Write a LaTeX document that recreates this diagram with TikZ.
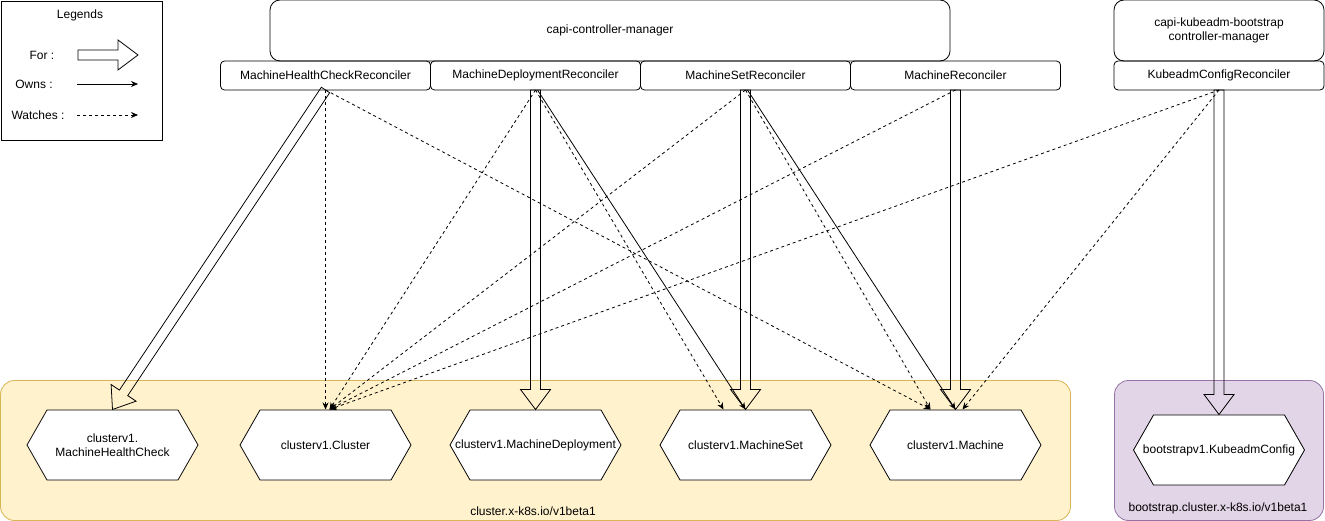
\documentclass[tikz,border=0pt]{standalone}
\usepackage{fontspec}
\setmainfont{Liberation Sans}
\usetikzlibrary{positioning}
\usetikzlibrary{calc}
\usetikzlibrary{arrows.meta}

\definecolor{clfill}{HTML}{FFF2CC}
\definecolor{cldraw}{HTML}{D6B656}
\definecolor{bsfill}{HTML}{E1D5E7}
\definecolor{bsdraw}{HTML}{9673A6}

\tikzset{
  mgrbox/.style={draw, rounded corners=10pt, minimum width=680pt, minimum height=61pt, align=center, outer sep=0pt},
  recbox/.style={draw, rounded corners=4pt, minimum width=210pt, minimum height=29pt, inner sep=0pt, outer sep=0pt},
  kind/.style={minimum width=172pt, minimum height=71pt, inner sep=0pt, outer sep=0pt, align=center,
    path picture={\draw[fill=white]
      ([xshift=0.5pt]path picture bounding box.west)
      -- ([xshift=20.5pt,yshift=-0.5pt]path picture bounding box.north west)
      -- ([xshift=-20.5pt,yshift=-0.5pt]path picture bounding box.north east)
      -- ([xshift=-0.5pt]path picture bounding box.east)
      -- ([xshift=-20.5pt,yshift=0.5pt]path picture bounding box.south east)
      -- ([xshift=20.5pt,yshift=0.5pt]path picture bounding box.south west) -- cycle;}},
  owns/.style={->},
  watches/.style={->, dash pattern=on 3pt off 3pt},
  forline/.style={line join=miter},
}

% hollow "for" arrow from #1 to #2
\newcommand{\forarrow}[2]{%
  \path ($(#2)!20pt!(#1)$) coordinate (fh);
  \draw[forline] ($(#1)!5pt!90:(#2)$) -- ($(fh)!5pt!90:(#2)$) -- ($(fh)!15pt!90:(#2)$)
    -- (#2) -- ($(fh)!15pt!-90:(#2)$) -- ($(fh)!5pt!-90:(#2)$) -- ($(#1)!5pt!-90:(#2)$) -- cycle;}

\begin{document}
\begin{tikzpicture}[x=1pt, y=1pt, line width=0.8pt, >={Stealth[length=7pt,width=6pt]},
    font=\fontsize{12}{14}\selectfont]

    \useasboundingbox (0,0) rectangle (1325,-521);

    % api groups
    \draw[fill=clfill, draw=cldraw, rounded corners=14pt] (0.5,-380.5) rectangle (1070.5,-520.5);
    \node (clgroup) at (533,-511) {cluster.x-k8s.io/v1beta1};
    \draw[fill=bsfill, draw=bsdraw, rounded corners=14pt] (1114.5,-380.5) rectangle (1323.5,-520.5);
    \node (bsgroup) at (1218,-508) {bootstrap.cluster.x-k8s.io/v1beta1};

    % legend
    \node[draw, minimum width=161pt, minimum height=139pt, outer sep=0pt] (legend) at (81.5,-70.5) {};
    \node (legtitle) at (80,-15) {Legends};
    \node (legfor) at (42,-55) {For :};
    \node (legowns) at (34,-84) {Owns :};
    \node (legwatch) at (38,-115) {Watches :};
    \coordinate (fora) at (78,-55);
    \coordinate (forb) at (138,-55);
    \coordinate (ownsa) at (77,-84);
    \coordinate (ownsb) at (138,-84);
    \coordinate (watcha) at (77,-115);
    \coordinate (watchb) at (138,-115);

    % controllers
    \node[mgrbox] (capi) at (610,-30.5) {capi-controller-manager};
    \node[recbox] (mhcrec) at (325.5,-75.5) {MachineHealthCheckReconciler};
    \node[recbox, right=0pt of mhcrec] (mdeprec) {MachineDeploymentReconciler};
    \node[recbox, right=0pt of mdeprec] (msetrec) {MachineSetReconciler};
    \node[recbox, right=0pt of msetrec] (machrec) {MachineReconciler};

    \node[mgrbox, minimum width=210pt] (kbcapi) at (1219,-30.5) {capi-kubeadm-bootstrap\\controller-manager};
    \node[recbox, below=0pt of kbcapi] (kcfgrec) {KubeadmConfigReconciler};

    % kinds
    \node[kind, below=319.5pt of mhcrec] (cluster) {clusterv1.Cluster};
    \node[kind, left=41pt of cluster] (mhc) {clusterv1.\\MachineHealthCheck};
    \node[kind, below=319.5pt of mdeprec] (mdep) {clusterv1.MachineDeployment};
    \node[kind, below=319.5pt of msetrec] (mset) {clusterv1.MachineSet};
    \node[kind, below=319.5pt of machrec] (mach) {clusterv1.Machine};
    \node[kind, below=324.5pt of kcfgrec] (kcfg) {bootstrapv1.KubeadmConfig};

    % for
    \forarrow{fora}{forb}
    \forarrow{mhcrec.south}{mhc.north}
    \forarrow{mdeprec.south}{mdep.north}
    \forarrow{msetrec.south}{mset.north}
    \forarrow{machrec.south}{mach.north}
    \forarrow{kcfgrec.south}{kcfg.north}

    % owns
    \draw[owns] (ownsa) -- (ownsb);
    \draw[owns] ([xshift=2pt]mdeprec.south) -- (mset.north);
    \draw[owns] ([xshift=2pt]msetrec.south) -- (mach.north);

    % watches
    \draw[watches] (watcha) -- (watchb);
    \draw[watches] (mhcrec.south) -- (cluster.north);
    \draw[watches] (mhcrec.south) -- ([xshift=-25pt]mach.north);
    \draw[watches] (mdeprec.south) -- ([xshift=4pt]cluster.north);
    \draw[watches] (mdeprec.south) -- ([xshift=-22pt]mset.north);
    \draw[watches] (msetrec.south) -- ([xshift=4pt]cluster.north);
    \draw[watches] (msetrec.south) -- ([xshift=-25pt]mach.north);
    \draw[watches] (machrec.south) -- ([xshift=4pt]cluster.north);
    \draw[watches] (kcfgrec.south) -- ([xshift=4pt]cluster.north);
    \draw[watches] (kcfgrec.south) -- ([xshift=7pt]mach.north);

\end{tikzpicture}
\end{document}
